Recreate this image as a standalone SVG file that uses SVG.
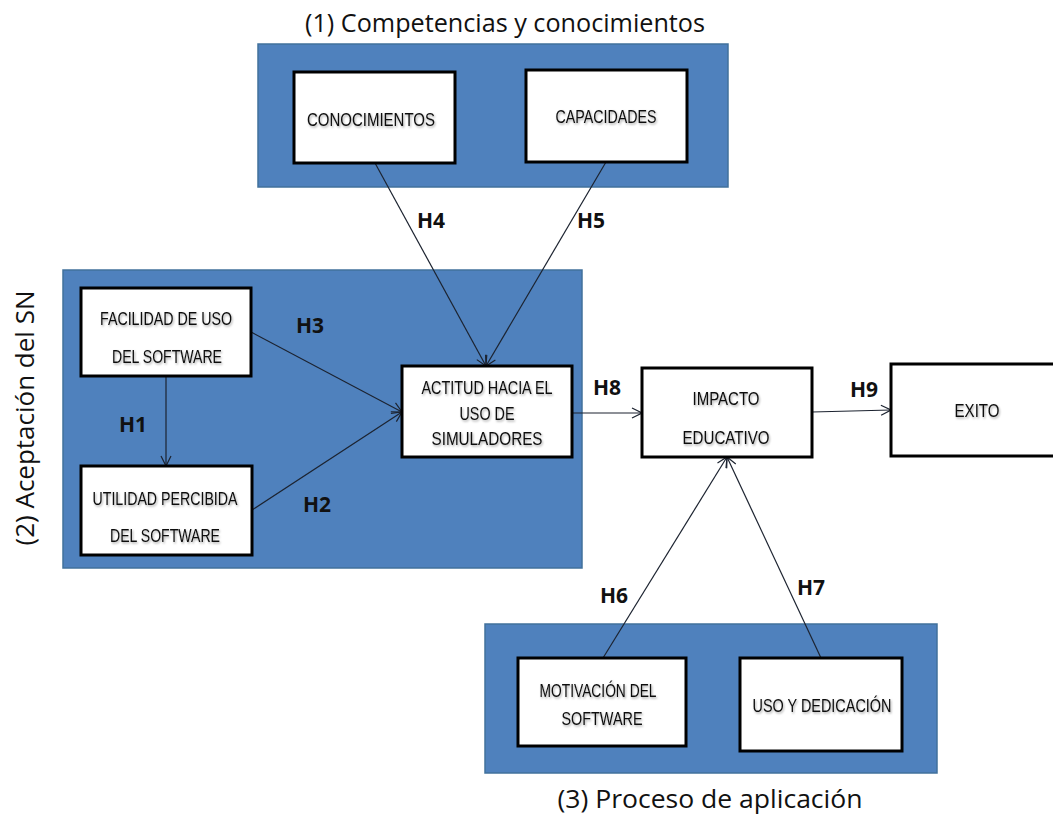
<svg xmlns="http://www.w3.org/2000/svg" width="1053" height="818" viewBox="0 0 1053 818">
<style>
.panel{fill:#4F81BD;stroke:#41719C;stroke-width:1.5}
.box{fill:#fff;stroke:#000;stroke-width:3}
.nt{font-family:"Liberation Sans",Arial,sans-serif;font-size:19px;fill:#111;text-anchor:middle;filter:url(#sh)}
.hl{font-family:"Open Sans","Liberation Sans",sans-serif;font-size:21px;font-weight:bold;fill:#111}
.ttl{font-family:"Open Sans","Liberation Sans",sans-serif;font-size:25px;fill:#111;text-anchor:middle}
.cn{stroke:#1c2330;stroke-width:1.2;fill:none;marker-end:url(#ah)}
</style>
<defs>
<marker id="ah" viewBox="0 0 12 12" refX="11" refY="6" markerWidth="12" markerHeight="12" markerUnits="userSpaceOnUse" orient="auto">
<path d="M1,1 L11,6 L1,11" fill="none" stroke="#1c2330" stroke-width="1.2"/>
</marker>
<filter id="sh" x="-10%" y="-30%" width="120%" height="160%">
<feDropShadow dx="1" dy="1.5" stdDeviation="0.8" flood-color="#000" flood-opacity="0.35"/>
</filter>
</defs>
<rect width="1053" height="818" fill="#fff"/>

<g id="panel1">
<rect class="panel" x="258" y="44" width="470" height="143"/>
<text class="ttl" x="505" y="32" textLength="400" lengthAdjust="spacingAndGlyphs">(1) Competencias y conocimientos</text>
</g>
<g id="panel2">
<rect class="panel" x="63" y="270" width="519" height="298"/>
<text class="ttl" transform="translate(34,418) rotate(-90)" textLength="255" lengthAdjust="spacingAndGlyphs">(2) Aceptación del SN</text>
</g>
<g id="panel3">
<rect class="panel" x="485" y="624" width="452" height="149"/>
<text class="ttl" x="710" y="808" textLength="305" lengthAdjust="spacingAndGlyphs">(3) Proceso de aplicación</text>
</g>

<g id="connectors">
<line class="cn" x1="375" y1="163" x2="486" y2="366"/>
<line class="cn" x1="606" y1="162" x2="486" y2="366"/>
<line class="cn" x1="251" y1="332" x2="402" y2="412"/>
<line class="cn" x1="252" y1="510" x2="402" y2="412"/>
<line class="cn" x1="166" y1="376" x2="166" y2="466"/>
<line class="cn" x1="572" y1="413" x2="642" y2="413"/>
<line class="cn" x1="812" y1="412" x2="891" y2="410"/>
<line class="cn" x1="603" y1="658" x2="727" y2="457"/>
<line class="cn" x1="821" y1="658" x2="727" y2="457"/>
<text class="hl" x="417" y="228">H4</text>
<text class="hl" x="577" y="228">H5</text>
<text class="hl" x="296" y="333">H3</text>
<text class="hl" x="119" y="432">H1</text>
<text class="hl" x="303" y="512">H2</text>
<text class="hl" x="593" y="395">H8</text>
<text class="hl" x="850" y="397">H9</text>
<text class="hl" x="600" y="603">H6</text>
<text class="hl" x="797" y="595">H7</text>
</g>

<g id="conocimientos">
<rect class="box" x="294" y="72" width="161" height="91"/>
<text class="nt" x="371" y="126" textLength="128" lengthAdjust="spacingAndGlyphs">CONOCIMIENTOS</text>
</g>
<g id="capacidades">
<rect class="box" x="526" y="70" width="161" height="92"/>
<text class="nt" x="606" y="123" textLength="101" lengthAdjust="spacingAndGlyphs">CAPACIDADES</text>
</g>
<g id="facilidad">
<rect class="box" x="81" y="288" width="170" height="88"/>
<text class="nt" x="166" y="325" textLength="132" lengthAdjust="spacingAndGlyphs">FACILIDAD DE USO</text>
<text class="nt" x="167" y="363" textLength="110" lengthAdjust="spacingAndGlyphs">DEL SOFTWARE</text>
</g>
<g id="utilidad">
<rect class="box" x="81" y="466" width="171" height="89"/>
<text class="nt" x="165" y="505" textLength="145" lengthAdjust="spacingAndGlyphs">UTILIDAD PERCIBIDA</text>
<text class="nt" x="165" y="542" textLength="110" lengthAdjust="spacingAndGlyphs">DEL SOFTWARE</text>
</g>
<g id="actitud">
<rect class="box" x="402" y="366" width="170" height="91"/>
<text class="nt" x="487" y="394" textLength="131" lengthAdjust="spacingAndGlyphs">ACTITUD HACIA EL</text>
<text class="nt" x="487" y="420" textLength="55" lengthAdjust="spacingAndGlyphs">USO DE</text>
<text class="nt" x="487" y="445" textLength="111" lengthAdjust="spacingAndGlyphs">SIMULADORES</text>
</g>
<g id="impacto">
<rect class="box" x="642" y="368" width="170" height="89"/>
<text class="nt" x="726" y="405" textLength="67" lengthAdjust="spacingAndGlyphs">IMPACTO</text>
<text class="nt" x="726" y="444" textLength="87" lengthAdjust="spacingAndGlyphs">EDUCATIVO</text>
</g>
<g id="exito">
<rect class="box" x="891" y="364" width="170" height="92"/>
<text class="nt" x="977" y="417" textLength="45" lengthAdjust="spacingAndGlyphs">EXITO</text>
</g>
<g id="motivacion">
<rect class="box" x="518" y="658" width="168" height="88"/>
<text class="nt" x="598" y="697" textLength="117" lengthAdjust="spacingAndGlyphs">MOTIVACIÓN DEL</text>
<text class="nt" x="602" y="725" textLength="81" lengthAdjust="spacingAndGlyphs">SOFTWARE</text>
</g>
<g id="uso">
<rect class="box" x="740" y="658" width="162" height="93"/>
<text class="nt" x="822" y="712" textLength="139" lengthAdjust="spacingAndGlyphs">USO Y DEDICACIÓN</text>
</g>
</svg>
